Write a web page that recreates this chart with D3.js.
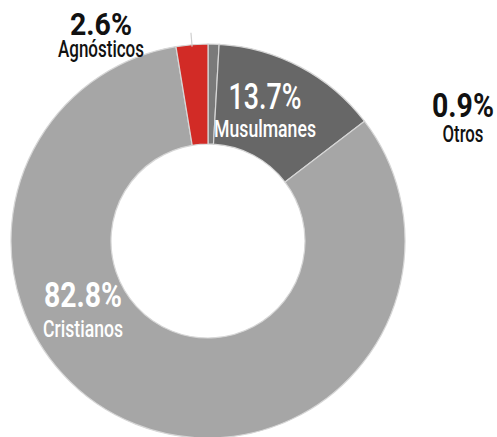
<!DOCTYPE html>
<html>
<head>
<meta charset="utf-8">
<script src="https://cdn.jsdelivr.net/npm/d3@7"></script>
<style>
  html, body { margin: 0; padding: 0; background: #ffffff; }
  svg { display: block; }
  text { font-family: Roboto, "Liberation Sans", sans-serif; }
</style>
</head>
<body>
<svg id="chart" width="497" height="437"></svg>
<script>
// ---- data ----
const categories = ["Otros", "Musulmanes", "Cristianos", "Agnósticos"];
const values = [0.9, 13.7, 82.8, 2.6];
const valueLabels = ["0.9%", "13.7%", "82.8%", "2.6%"];

// ---- styling / layout ----
const colors = ["#7a7a7a", "#676767", "#a6a6a6", "#d22b26"];
const W = 497, H = 437;
const cx = 208, cy = 241, R = 197, r0 = 97;

// label layout
const labelLayout = {
  "Otros":      { x: 463, vy: 117, vs: 34, vw: 62, ny: 142, ns: 23, nw: 41, fill: "#111111", vwgt: 700 },
  "Musulmanes": { x: 265, vy: 109, vs: 37, vw: 73, ny: 137, ns: 24, nw: 102, fill: "#ffffff", vwgt: 500 },
  "Cristianos": { x: 83,  vy: 307, vs: 35, vw: 78, ny: 337, ns: 24, nw: 80, fill: "#ffffff", vwgt: 700 },
  "Agnósticos": { x: 101, vy: 35,  vs: 31, vw: 62, ny: 57,  ns: 23, nw: 86, fill: "#111111", vwgt: 700 }
};

const svg = d3.select("#chart");
svg.append("rect").attr("width", W).attr("height", H).attr("fill", "#ffffff");

const g = svg.append("g").attr("transform", `translate(${cx},${cy})`);

const pie = d3.pie().sort(null).value(d => d.value).startAngle(0).endAngle(2 * Math.PI);
const data = categories.map((c, i) => ({ name: c, value: values[i], label: valueLabels[i], color: colors[i] }));
const arcs = pie(data);

const arc = d3.arc().innerRadius(r0).outerRadius(R);

g.selectAll("path.slice")
  .data(arcs)
  .enter().append("path")
  .attr("class", "slice")
  .attr("d", arc)
  .attr("fill", d => d.data.color)
  .attr("stroke", "#d6d6d6")
  .attr("stroke-width", 1.2);

// leader line for Agnósticos
const ag = arcs[3];
const mid = (ag.startAngle + ag.endAngle) / 2;
const lineR = d3.scaleLinear().domain([0, 1]).range([R - 2, R + 12]);
g.append("line")
  .attr("x1", Math.sin(mid) * lineR(0)).attr("y1", -Math.cos(mid) * lineR(0))
  .attr("x2", Math.sin(mid) * lineR(1)).attr("y2", -Math.cos(mid) * lineR(1))
  .attr("stroke", "#cfcfcf").attr("stroke-width", 1.2);

// labels: condensed via horizontal scale to the target width
function condensedText(parent, str, x, y, size, weight, fill, width) {
  const t = parent.append("text")
    .attr("text-anchor", "middle")
    .attr("font-size", size)
    .attr("font-weight", weight)
    .attr("fill", fill)
    .text(str);
  const natural = t.node().getComputedTextLength() || width;
  const sx = Math.min(1, width / natural);
  t.attr("transform", `translate(${x},${y}) scale(${sx},1)`);
  return t;
}

const lg = svg.append("g");
data.forEach(d => {
  const L = labelLayout[d.name];
  condensedText(lg, d.label, L.x, L.vy, L.vs, L.vwgt, L.fill, L.vw);
  condensedText(lg, d.name, L.x, L.ny, L.ns, 500, L.fill, L.nw);
});
</script>
</body>
</html>
